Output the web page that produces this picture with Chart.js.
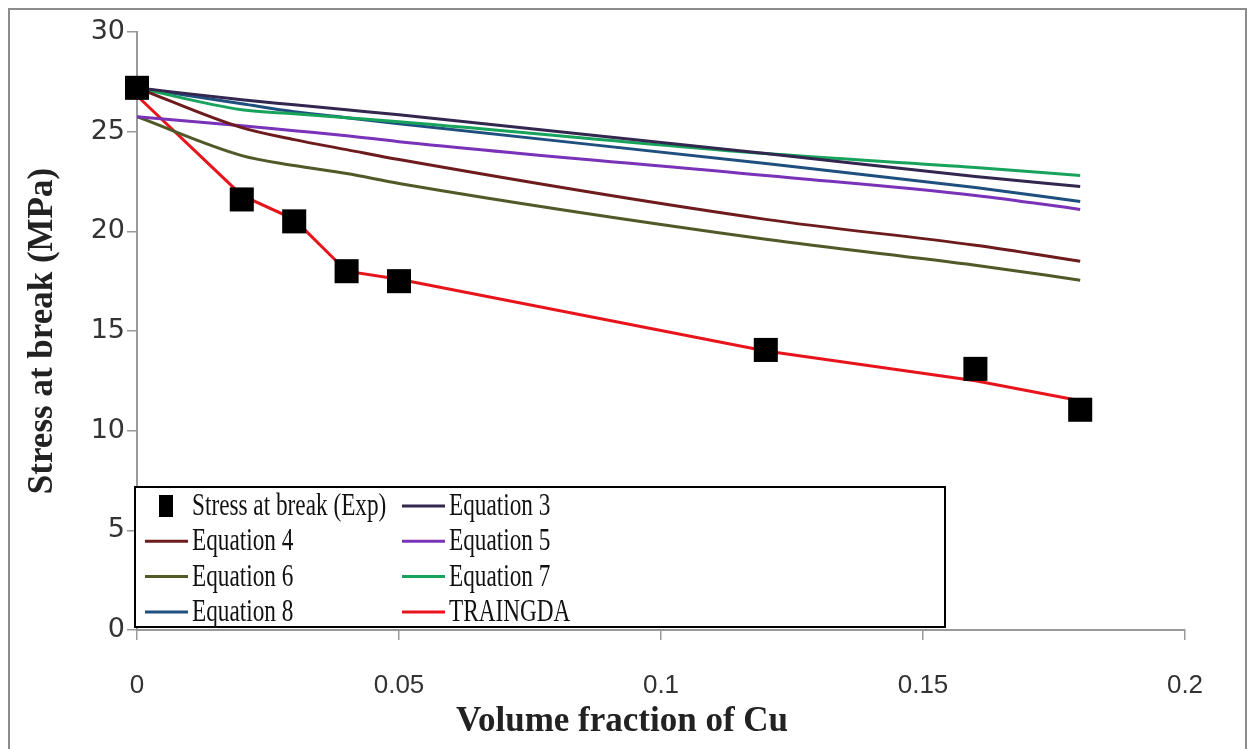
<!DOCTYPE html>
<html>
<head>
<meta charset="utf-8">
<script src="https://cdn.jsdelivr.net/npm/chart.js@4.4.0/dist/chart.umd.min.js"></script>
<style>
    html, body { margin: 0; padding: 0; background: #fff; overflow: hidden; }
    #frame { position: absolute; left: 8px; top: 8px; width: 1239px; height: 760px; border: 2px solid #8c8c8c; border-bottom: none; box-sizing: border-box; }
    #stressCanvas { position: absolute; left: 0; top: 0; }
</style>
</head>
<body>
<div id="frame"></div>
<canvas id="stressCanvas" width="1249" height="749"></canvas>
<script>
// Données
const volumeFraction = [0, 0.02, 0.03, 0.04, 0.05, 0.12, 0.16, 0.18];
const stressExp = [27.2, 21.6, 20.5, 18.0, 17.5, 14.05, 13.1, 11.05];
const equation3 = [27.2, 26.6, 26.35, 26.1, 25.85, 23.9, 22.75, 22.25];
const equation4 = [27.2, 25.2, 24.6, 24.1, 23.6, 20.6, 19.3, 18.5];
const equation5 = [25.75, 25.3, 25.05, 24.8, 24.5, 22.8, 21.8, 21.1];
const equation6 = [25.75, 23.8, 23.3, 22.9, 22.4, 19.6, 18.3, 17.55];
const equation7 = [27.2, 26.1, 25.9, 25.7, 25.5, 23.9, 23.2, 22.8];
const equation8 = [27.2, 26.4, 26.0, 25.7, 25.4, 23.4, 22.2, 21.5];
const traingda = [26.8, 21.8, 20.6, 18.0, 17.6, 14.0, 12.5, 11.5];

const xTickLabels = ["0", "0.05", "0.1", "0.15", "0.2"];
const yTickLabels = ["0", "5", "10", "15", "20", "25", "30"];
const xTitle = "Volume fraction of Cu";

function points(values) {
    return volumeFraction.map((x, i) => ({ x: x, y: values[i] }));
}

function equationLine(label, values, color) {
    return {
        label: label,
        data: points(values),
        borderColor: color,
        backgroundColor: color,
        borderWidth: 3,
        pointRadius: 0,
        cubicInterpolationMode: 'monotone',
        fill: false
    };
}

// Légende dessinée dans la zone du graphique + titre de l'axe X (décalé à gauche comme l'original)
const legendBox = {
    id: 'legendBox',
    afterDraw(chart) {
        const ctx = chart.ctx;
        const area = chart.chartArea;
        const left = area.left - 2;
        const top = area.bottom - 143;
        const width = 810;
        const height = 140;
        ctx.save();
        ctx.fillStyle = '#fff';
        ctx.fillRect(left, top, width, height);
        ctx.strokeStyle = '#000';
        ctx.lineWidth = 2;
        ctx.strokeRect(left, top, width, height);

        const colX = [left + 10, left + 267];
        ctx.font = '31px "Liberation Serif"';
        ctx.textBaseline = 'middle';
        chart.data.datasets.forEach((ds, i) => {
            const col = i % 2;
            const row = Math.floor(i / 2);
            const x0 = colX[col];
            const y = top + 19 + row * 35.3;
            if (ds.showLine === false) {
                ctx.fillStyle = '#000';
                ctx.fillRect(x0 + 14, y - 11, 14, 22);
            } else {
                ctx.strokeStyle = ds.borderColor;
                ctx.lineWidth = 3;
                ctx.beginPath();
                ctx.moveTo(x0, y);
                ctx.lineTo(x0 + 43, y);
                ctx.stroke();
            }
            ctx.fillStyle = '#111';
            ctx.save();
            ctx.translate(x0 + 47, y + 1);
            ctx.scale(0.75, 1);
            ctx.fillText(ds.label, 0, 0);
            ctx.restore();
        });

        ctx.fillStyle = '#222';
        ctx.font = 'bold 35px "Liberation Serif"';
        ctx.textAlign = 'center';
        ctx.textBaseline = 'middle';
        ctx.fillText(xTitle, (area.left + area.right) / 2 - 39, 722);
        ctx.restore();
    }
};

const stressCanvas = document.getElementById('stressCanvas');
const stressChart = new Chart(stressCanvas, {
    type: 'line',
    data: {
        datasets: [
            {
                label: 'Stress at break (Exp)',
                data: points(stressExp),
                showLine: false,
                pointStyle: 'rect',
                pointRadius: 17,
                pointBackgroundColor: '#000',
                pointBorderColor: '#000',
                pointBorderWidth: 0,
                clip: false
            },
            equationLine('Equation 3', equation3, '#33264f'),
            equationLine('Equation 4', equation4, '#6e1b1e'),
            equationLine('Equation 5', equation5, '#7a32b8'),
            equationLine('Equation 6', equation6, '#505a28'),
            equationLine('Equation 7', equation7, '#17a35c'),
            equationLine('Equation 8', equation8, '#1f4f7f'),
            {
                label: 'TRAINGDA',
                data: points(traingda),
                borderColor: '#e8141b',
                backgroundColor: '#e8141b',
                borderWidth: 3,
                pointRadius: 0,
                tension: 0,
                fill: false
            }
        ]
    },
    options: {
        responsive: false,
        animation: false,
        layout: {
            padding: { left: 0, top: 32, right: 64, bottom: 0 }
        },
        plugins: {
            legend: { display: false },
            tooltip: { enabled: false }
        },
        scales: {
            x: {
                type: 'linear',
                min: 0,
                max: 0.2,
                afterFit: function(scale) { scale.height = 119; },
                grid: {
                    drawOnChartArea: false,
                    drawTicks: true,
                    tickLength: 10,
                    color: '#999',
                    lineWidth: 1.5
                },
                border: { color: '#999', width: 2 },
                ticks: {
                    stepSize: 0.05,
                    padding: 30,
                    color: '#333',
                    font: { family: '"Liberation Sans"', size: 26 },
                    callback: function(value, index) { return xTickLabels[index]; }
                },
                title: { display: false }
            },
            y: {
                min: 0,
                max: 30,
                afterFit: function(scale) { scale.width = 137; },
                grid: {
                    drawOnChartArea: false,
                    drawTicks: true,
                    tickLength: 10,
                    color: '#999',
                    lineWidth: 1.5
                },
                border: { color: '#999', width: 2 },
                ticks: {
                    stepSize: 5,
                    padding: 2,
                    color: '#333',
                    font: { family: '"DejaVu Sans"', size: 27 },
                    callback: function(value, index) { return yTickLabels[index]; }
                },
                title: {
                    display: true,
                    text: 'Stress at break (MPa)',
                    color: '#222',
                    font: { family: '"Liberation Serif"', size: 35, weight: 'bold' },
                    padding: { top: 22, bottom: 0 }
                }
            }
        }
    },
    plugins: [legendBox]
});
</script>
</body>
</html>
